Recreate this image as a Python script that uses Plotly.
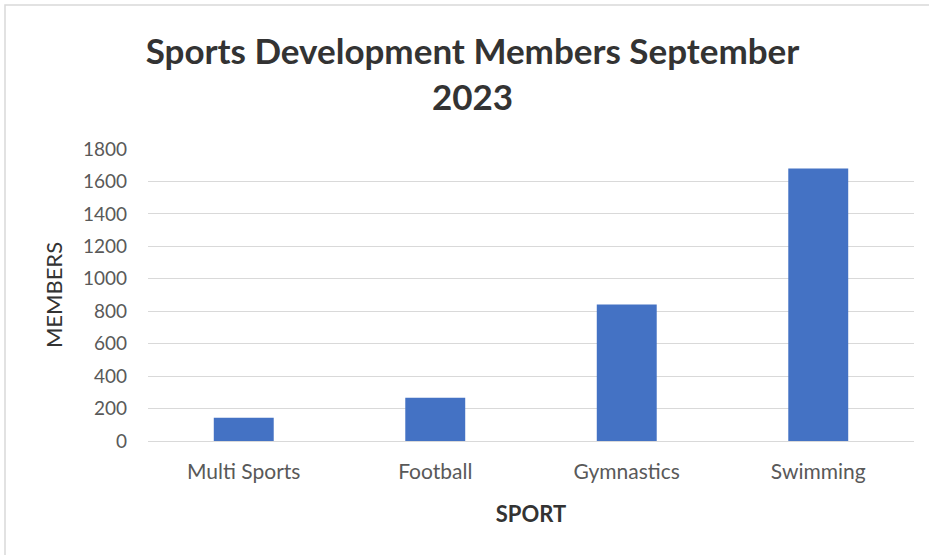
import plotly.graph_objects as go

categories = ["Multi Sports", "Football", "Gymnastics", "Swimming"]
members = [143, 267, 841, 1680]
y_ticks = [0, 200, 400, 600, 800, 1000, 1200, 1400, 1600, 1800]

FONT = "Lato, 'Open Sans', sans-serif"
L, R, T, B = 148, 15, 149, 114
W, H = 929, 555
PW, PH = W - L - R, H - T - B

fig = go.Figure()
fig.add_trace(go.Bar(x=categories, y=members, marker=dict(color="#4472C4", line=dict(width=0)),
                     hoverinfo="x+y"))

fig.update_layout(
    width=W, height=H,
    margin=dict(l=L, r=R, t=T, b=B),
    paper_bgcolor="white", plot_bgcolor="white",
    bargap=0.687,
    showlegend=False,
    font=dict(family=FONT, color="#595959", size=20),
    title=dict(text="<b>Sports Development Members September<br>2023</b>",
               x=472.5 / W, xref="container", xanchor="center",
               y=1 - 64 / H, yref="container", yanchor="middle",
               font=dict(family=FONT, size=35, color="#333333")),
    xaxis=dict(showgrid=False, showline=True, linecolor="#d9d9d9", linewidth=1,
               ticks="", tickfont=dict(size=21, color="#595959"),
               ticklabelstandoff=12,
               title=dict(text="<b>SPORT</b>", font=dict(size=22, color="#333333"), standoff=24)),
    yaxis=dict(range=[0, 1800], tickvals=y_ticks, showgrid=True, gridcolor="#d9d9d9", gridwidth=1,
               zeroline=False, ticks="", tickfont=dict(size=19, color="#595959"),
               ticklabelstandoff=20,
               title=dict(text="MEMBERS", font=dict(size=22, color="#333333"), standoff=14)),
    shapes=[dict(type="rect", xref="paper", yref="paper",
                 x0=(5 - L) / PW, x1=1 + 30 / PW, y0=-(B + 30) / PH, y1=1 + (T - 5) / PH,
                 line=dict(color="#d9d9d9", width=1.5), fillcolor="rgba(0,0,0,0)", layer="below")],
)

fig.write_html("out.html", config={"displayModeBar": False},
               post_script="document.body.style.margin='0';document.body.style.padding='0';")
